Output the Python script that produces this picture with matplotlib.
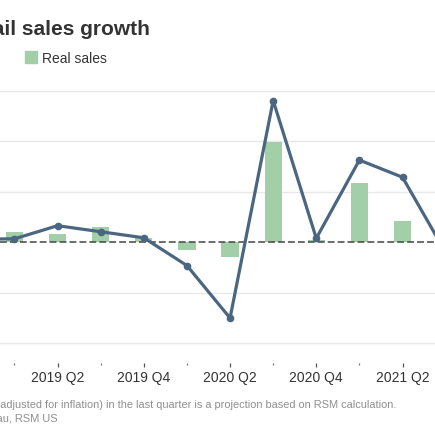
import matplotlib
matplotlib.use('Agg')
import matplotlib.pyplot as plt
import numpy as np

plt.rcParams['font.family'] = ['Liberation Sans', 'DejaVu Sans']

# quarterly growth, % q/q
quarters = ['2018 Q4', '2019 Q1', '2019 Q2', '2019 Q3', '2019 Q4', '2020 Q1',
            '2020 Q2', '2020 Q3', '2020 Q4', '2021 Q1', '2021 Q2', '2021 Q3']
retail_sales = [0.3, 0.35, 1.65, 1.05, 0.45, -2.3, -7.5, 14.05, 0.4, 8.15, 6.45, -1.0]
real_sales = [0.5, 1.05, 0.85, 1.55, 0.45, -0.75, -1.5, 9.9, 0.25, 5.9, 2.1, -1.5]

title = 'Retail sales growth'
note = 'Note: Real sales (adjusted for inflation) in the last quarter is a projection based on RSM calculation.'
source = 'Source: Census Bureau, RSM US'

W, H = 435, 435
fig = plt.figure(figsize=(4.351, 4.351), dpi=100)

# the picture is a crop of a wider chart, so the axes run past both edges
ax = fig.add_axes([0, 1 - 363 / H, 1, (363 - 80) / H])
x = np.arange(len(quarters))

ax.bar(x, real_sales, width=0.4, color='#a2cfa7', zorder=2)
ax.plot(x, retail_sales, color='#4b6680', lw=2.3, marker='o', ms=4.5, zorder=4)
ax.axhline(0, color='#444444', lw=1.1, dashes=(4.5, 2), zorder=3)

ax.set_yticks([-10, -5, 5, 10, 15])
ax.yaxis.grid(True, color='#e8e8e8', lw=1)
ax.set_axisbelow(True)
ax.tick_params(axis='y', left=False, labelleft=False)

ax.set_xticks(x[::2])
ax.set_xticklabels(quarters[::2])
ax.set_xticks(x[1::2], minor=True)
ax.tick_params(axis='x', which='major', length=3, width=0.9, color='#555555',
               pad=3, labelsize=10, labelcolor='#333333')
ax.tick_params(axis='x', which='minor', length=1.5, width=0.9, color='#777777')

# limits last, set_xticks would widen them
ax.set_xlim(0.664, 10.756)
ax.set_ylim(-11.95, 16.09)

for s in ax.spines.values():
    s.set_visible(False)

fig.text(150 / W, 1 - 35 / H, title, ha='right', va='baseline',
         fontsize=15, fontweight='bold', color='#333333')
fig.add_artist(plt.Rectangle((25 / W, 1 - 63 / H), 12 / W, 12 / H,
                             transform=fig.transFigure, color='#a2cfa7'))
fig.text(42 / W, 1 - 63 / H, 'Real sales', ha='left', va='baseline',
         fontsize=10, color='#333333')

fig.text(396 / W, 1 - 408 / H, note, ha='right', va='baseline',
         fontsize=7.9, color='#8f8f8f')
fig.text(58 / W, 1 - 421 / H, source, ha='right', va='baseline',
         fontsize=7.9, color='#8f8f8f')

fig.savefig('out.png', dpi=100)
